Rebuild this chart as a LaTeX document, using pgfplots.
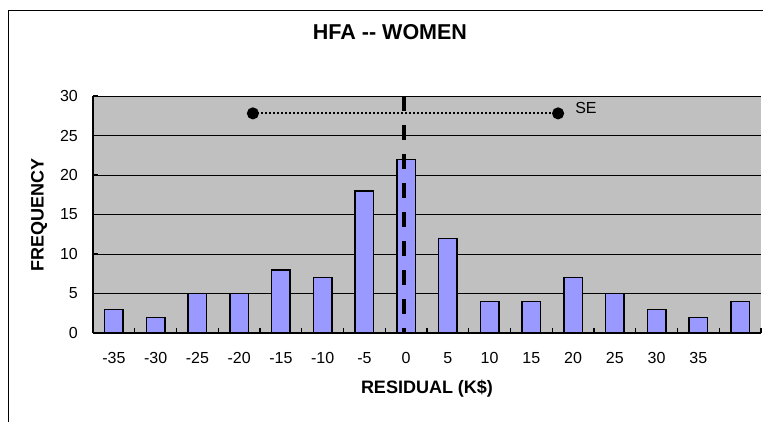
\documentclass[border=0pt]{standalone}
\usepackage{pgfplots}
\pgfplotsset{compat=1.18}
\usepackage{fontspec}
\setmainfont{Liberation Sans}
\definecolor{bggray}{HTML}{C0C0C0}
\definecolor{barblue}{HTML}{9999FF}
\begin{document}
\begin{tikzpicture}[x=1pt,y=1pt]
\useasboundingbox (0,0) rectangle (763,421);
\clip (0,0) rectangle (763,421);
\draw[line width=1pt] (8.5,410.5) rectangle (800,-20);
\begin{axis}[
  at={(93pt,88pt)}, anchor=south west,
  width=668pt, height=237pt, scale only axis,
  xmin=-0.5, xmax=15.5, ymin=0, ymax=30,
  axis x line*=bottom, axis y line*=left,
  axis line style={-, line width=1.4pt, black},
  axis background/.style={fill=bggray},
  ytick={0,5,...,30},
  ymajorgrids, major grid style={black, line width=0.9pt},
  tick align=inside,
  major tick length=5pt,
  tick style={black, line width=1.2pt},
  xtick={-0.5,0.5,...,15.5}, xticklabels={},
  extra x ticks={0,1,...,14},
  extra x tick labels={-35,-30,-25,-20,-15,-10,-5,0,5,10,15,20,25,30,35},
  extra x tick style={major tick length=0pt, grid=none},
  /pgf/number format/assume math mode=true,
  ticklabel style={font=\fontsize{16}{19}\selectfont, inner sep=0pt},
  xticklabel style={anchor=north, yshift=-19pt, text height=11.5pt, text depth=0pt},
  yticklabel style={anchor=east, xshift=-15pt},
  title={HFA -{}- WOMEN},
  title style={font=\fontsize{21.5}{24}\selectfont\bfseries, at={([xshift=-37pt,yshift=58pt]axis description cs:0.5,1)}, anchor=center, inner sep=0pt},
  xlabel={RESIDUAL (K\$)},
  xlabel style={font=\fontsize{18}{21}\selectfont\bfseries, at={([yshift=-56pt]axis description cs:0.5,0)}, anchor=center, inner sep=0pt},
  ylabel={FREQUENCY},
  ylabel style={font=\fontsize{18}{21}\selectfont\bfseries, at={([xshift=-54pt]axis description cs:0,0.5)}, anchor=center, inner sep=0pt},
  clip=false,
]
\addplot[ybar, bar width=18.5pt, fill=barblue, draw=black, line width=1.4pt]
  coordinates {(0,3) (1,2) (2,5) (3,5) (4,8) (5,7) (6,18) (7,22) (8,12) (9,4) (10,4) (11,7) (12,5) (13,3) (14,2) (15,4)};
\addplot[black, line width=4pt, dash pattern=on 15pt off 14pt, line cap=butt]
  coordinates {(6.95,30) (6.95,0)};
\addplot[black, line width=2pt, dash pattern=on 2pt off 2pt, mark=*, mark size=5pt, mark options={solid, fill=black}]
  coordinates {(3.33,27.8) (10.64,27.8)};
\node[anchor=west, inner sep=0pt, font=\fontsize{16}{19}\selectfont] at ([xshift=17pt,yshift=5pt]axis cs:10.64,27.8) {SE};
\end{axis}
\end{tikzpicture}
\end{document}
